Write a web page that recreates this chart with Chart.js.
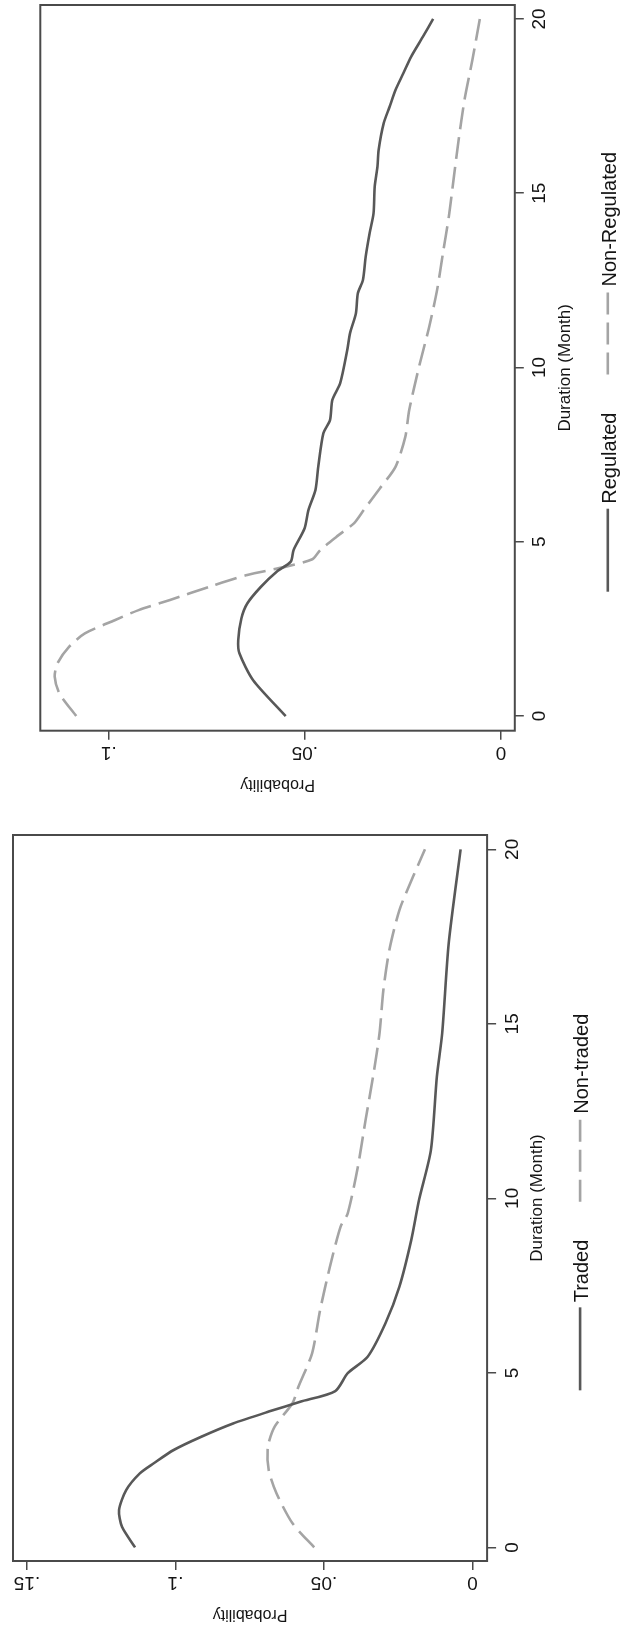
<!DOCTYPE html>
<html>
<head>
<meta charset="utf-8">
<script src="https://cdn.jsdelivr.net/npm/chart.js@4.4.0/dist/chart.umd.min.js"></script>
<style>
  html, body { margin: 0; padding: 0; background: #fff; }
  body { width: 620px; height: 1633px; position: relative; overflow: hidden; }
  canvas { position: absolute; left: 0; }
  #panelTop { top: 0; }
  #panelBottom { top: 800px; }
</style>
</head>
<body>
<canvas id="panelTop" width="620" height="800"></canvas>
<canvas id="panelBottom" width="620" height="833"></canvas>
<script>
// ---- data: duration in months and estimated probability ----
const durationTicks = [0, 5, 10, 15, 20];
const durationTickLabels = ['0', '5', '10', '15', '20'];

const regulatedMonth = [0, 1.03, 1.80, 2.18, 2.80, 3.23, 3.71, 4.14, 4.43, 4.76, 5.38, 5.91, 6.49, 7.15, 8.11, 8.49, 9.07, 9.55, 10.50, 10.98, 11.55, 12.13, 12.51, 13.18, 13.85, 14.42, 15.19, 15.76, 16.24, 17.01, 17.48, 17.96, 18.44, 18.92, 19.49, 20];
const regulatedProb = [0.0549, 0.0632, 0.0667, 0.0670, 0.0662, 0.0647, 0.0612, 0.0572, 0.0536, 0.0529, 0.0501, 0.0491, 0.0473, 0.0466, 0.0453, 0.0436, 0.0430, 0.0410, 0.0392, 0.0385, 0.0370, 0.0365, 0.0352, 0.0345, 0.0335, 0.0325, 0.0322, 0.0315, 0.0312, 0.0299, 0.0284, 0.0269, 0.0249, 0.0229, 0.0199, 0.0173];

const nonRegulatedMonth = [0, 0.65, 1.13, 1.51, 1.99, 2.37, 2.75, 3.04, 3.33, 3.71, 4.05, 4.28, 4.50, 4.76, 5.14, 5.53, 5.91, 6.53, 7.15, 8.01, 8.78, 10.02, 11.17, 12.22, 13.28, 14.33, 15.48, 16.53, 17.68, 18.82, 20];
const nonRegulatedProb = [0.1083, 0.1126, 0.1138, 0.1131, 0.1101, 0.1061, 0.0985, 0.0924, 0.0844, 0.0743, 0.0647, 0.0551, 0.0481, 0.0461, 0.0420, 0.0375, 0.0350, 0.0309, 0.0269, 0.0244, 0.0234, 0.0209, 0.0183, 0.0163, 0.0148, 0.0133, 0.0120, 0.0108, 0.0093, 0.0073, 0.0054];

const tradedMonth = [0, 0.59, 1.07, 1.64, 2.12, 2.41, 2.79, 3.17, 3.55, 3.89, 4.17, 4.48, 4.99, 5.46, 6.42, 7.47, 8.81, 9.95, 11.38, 13.48, 14.73, 17.31, 20];
const tradedProb = [0.1136, 0.1180, 0.1190, 0.1166, 0.1120, 0.1073, 0.1006, 0.0913, 0.0806, 0.0686, 0.0580, 0.0462, 0.0420, 0.0353, 0.0293, 0.0246, 0.0206, 0.0180, 0.0140, 0.0120, 0.0102, 0.0080, 0.0040];

const nonTradedMonth = [0, 0.69, 1.55, 2.21, 2.88, 3.46, 4.13, 4.60, 5.56, 6.80, 8.04, 9.19, 9.57, 10.90, 12.24, 13.58, 14.73, 15.97, 17.11, 18.26, 19.22, 20];
const nonTradedProb = [0.0533, 0.0606, 0.0660, 0.0686, 0.0689, 0.0666, 0.0606, 0.0586, 0.0540, 0.0513, 0.0480, 0.0444, 0.0420, 0.0386, 0.0360, 0.0333, 0.0313, 0.0300, 0.0280, 0.0246, 0.0200, 0.0160];

const probTicksTop = [0, 0.05, 0.1];
const probTickLabelsTop = ['0', '.05', '.1'];
const probTicksBottom = [0, 0.05, 0.1, 0.15];
const probTickLabelsBottom = ['0', '.05', '.1', '.15'];

const seriesNamesTop = ['Regulated', 'Non-Regulated'];
const seriesNamesBottom = ['Traded', 'Non-traded'];
const probAxisTitle = 'Probability';
const durationAxisTitle = 'Duration (Month)';

// ---- styling ----
const FONT = '"Liberation Sans", Arial, Helvetica, sans-serif';
const INK = '#141414';
const FRAME = '#4a4a4a';
const SOLID = 'rgb(88,88,88)';
const DASHED = 'rgb(164,164,164)';
const DASH = [22, 8];

function pairs(months, probs) {
  return months.map((m, i) => ({ x: probs[i], y: m }));
}

// Draws frame, rotated axis labels, titles and the key of one panel.
function panelDecor(probTicks, probLabels) {
  return {
    id: 'panelDecor',
    afterDraw(chart) {
      const { ctx, chartArea: a, scales: { x, y } } = chart;
      const midY = (a.top + a.bottom) / 2;
      const midX = (a.left + a.right) / 2;

      ctx.save();
      ctx.strokeStyle = FRAME;
      ctx.lineWidth = 2;
      ctx.strokeRect(a.left, a.top, a.right - a.left, a.bottom - a.top);
      ctx.restore();

      ctx.save();
      ctx.fillStyle = INK;
      ctx.textAlign = 'center';
      ctx.textBaseline = 'alphabetic';

      // probability tick labels, turned upside down
      ctx.font = `19px ${FONT}`;
      probTicks.forEach((v, i) => {
        ctx.save();
        ctx.translate(x.getPixelForValue(v), a.bottom + 16);
        ctx.rotate(Math.PI);
        ctx.fillText(probLabels[i], 0, 0);
        ctx.restore();
      });
      ctx.font = `16px ${FONT}`;
      ctx.save();
      ctx.translate(midX, a.bottom + 49);
      ctx.rotate(Math.PI);
      ctx.fillText(probAxisTitle, 0, 0);
      ctx.restore();

      // duration tick labels, reading bottom to top
      ctx.font = `19px ${FONT}`;
      durationTicks.forEach((v, i) => {
        ctx.save();
        ctx.translate(a.right + 30.5, y.getPixelForValue(v));
        ctx.rotate(-Math.PI / 2);
        ctx.fillText(durationTickLabels[i], 0, 0);
        ctx.restore();
      });
      ctx.font = `17px ${FONT}`;
      ctx.save();
      ctx.translate(a.right + 55, midY);
      ctx.rotate(-Math.PI / 2);
      ctx.fillText(durationAxisTitle, 0, 0);
      ctx.restore();

      // key
      ctx.save();
      ctx.translate(a.right + 93, midY + 4);
      ctx.rotate(-Math.PI / 2);
      ctx.font = `20px ${FONT}`;
      ctx.textAlign = 'left';
      const sample = 83, gapText = 5, gapKey = 38;
      const sets = chart.data.datasets;
      const widths = sets.map(d => ctx.measureText(d.label).width);
      const total = sets.length * (sample + gapText) + gapKey * (sets.length - 1) + widths.reduce((s, w) => s + w, 0);
      let cx = -total / 2;
      sets.forEach((d, i) => {
        ctx.beginPath();
        ctx.setLineDash(d.borderDash || []);
        ctx.strokeStyle = d.borderColor;
        ctx.lineWidth = d.borderWidth;
        ctx.moveTo(cx, 0);
        ctx.lineTo(cx + sample, 0);
        ctx.stroke();
        ctx.setLineDash([]);
        cx += sample + gapText;
        ctx.fillStyle = INK;
        ctx.fillText(d.label, cx, 8);
        cx += widths[i] + gapKey;
      });
      ctx.restore();

      ctx.restore();
    }
  };
}

function buildPanel(canvasId, area, probRange, monthRange, probTicks, probLabels, datasets) {
  const canvas = document.getElementById(canvasId);
  const W = canvas.width, H = canvas.height;
  const tickGrid = {
    display: true, drawOnChartArea: false, drawTicks: true,
    tickLength: 9, color: FRAME, lineWidth: 1.5
  };
  return new Chart(canvas, {
    type: 'line',
    data: { datasets },
    options: {
      responsive: false,
      animation: false,
      events: [],
      layout: { padding: { left: area.left, top: area.top, right: 0, bottom: 0 } },
      plugins: { legend: { display: false }, tooltip: { enabled: false } },
      elements: { point: { radius: 0 }, line: { tension: 0.25, borderCapStyle: 'butt' } },
      scales: {
        x: {
          type: 'linear', reverse: true, min: probRange[0], max: probRange[1],
          afterBuildTicks: s => { s.ticks = probTicks.map(v => ({ value: v })); },
          afterFit: s => { s.height = H - area.bottom; },
          ticks: { display: false },
          grid: tickGrid,
          border: { display: false }
        },
        y: {
          type: 'linear', position: 'right', min: monthRange[0], max: monthRange[1],
          afterBuildTicks: s => { s.ticks = durationTicks.map(v => ({ value: v })); },
          afterFit: s => { s.width = W - area.right; },
          ticks: { display: false },
          grid: tickGrid,
          border: { display: false }
        }
      }
    },
    plugins: [panelDecor(probTicks, probLabels)]
  });
}

buildPanel('panelTop',
  { left: 40.3, top: 5, right: 514.8, bottom: 730.7 },
  [-0.00352, 0.11747], [-0.42, 20.40],
  probTicksTop, probTickLabelsTop,
  [
    { label: seriesNamesTop[0], data: pairs(regulatedMonth, regulatedProb), borderColor: SOLID, borderWidth: 2.6, fill: false },
    { label: seriesNamesTop[1], data: pairs(nonRegulatedMonth, nonRegulatedProb), borderColor: DASHED, borderWidth: 2.6, borderDash: DASH, fill: false }
  ]);

buildPanel('panelBottom',
  { left: 13, top: 35, right: 487.1, bottom: 761 },
  [-0.00492, 0.1547], [-0.39, 20.41],
  probTicksBottom, probTickLabelsBottom,
  [
    { label: seriesNamesBottom[0], data: pairs(tradedMonth, tradedProb), borderColor: SOLID, borderWidth: 2.6, fill: false },
    { label: seriesNamesBottom[1], data: pairs(nonTradedMonth, nonTradedProb), borderColor: DASHED, borderWidth: 2.6, borderDash: DASH, fill: false }
  ]);
</script>
</body>
</html>
